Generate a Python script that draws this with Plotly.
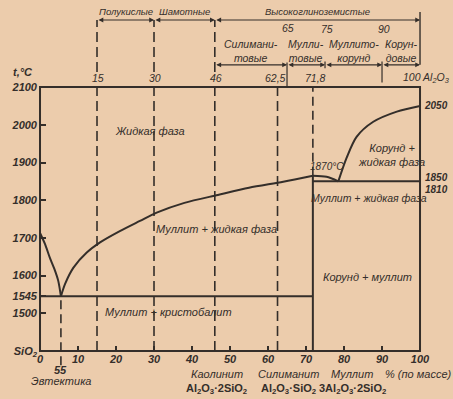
import plotly.graph_objects as go

# ---- data (x = % Al2O3 by mass, t = °C) ----
liq_sio2_x = [0, 1.3, 2.6, 3.8, 4.8, 5.5]
liq_sio2_t = [1713, 1684, 1647, 1617, 1586, 1545]
liq_mullite_x = [5.5, 6.6, 8.8, 12.3, 15.8, 21.0, 26.3, 30.7, 38.0, 46.8, 55.0, 64.0, 71.8]
liq_mullite_t = [1545, 1578, 1621, 1661, 1688, 1718, 1745, 1767, 1793, 1814, 1833, 1849, 1865]
peritectic_x = [71.8, 75.4, 78.5]
peritectic_t = [1865, 1862, 1850]
liq_corundum_x = [78.5, 80.7, 83.3, 87.7, 93.9, 100]
liq_corundum_t = [1850, 1913, 1968, 2008, 2035, 2050]

eutectic_x = 5.5
eutectic_t = 1545
mullite_x = 71.8
solidus_right_t = 1850
t_min, t_max = 1400, 2100
x_min, x_max = 0, 100

x_ticks = [0, 10, 20, 30, 40, 50, 60, 70, 80, 90, 100]
y_ticks = [1400, 1500, 1545, 1600, 1700, 1800, 1900, 2000, 2100]
y_tick_text = ["SiO<sub>2</sub>", "1500", "1545", "1600", "1700", "1800", "1900", "2000", "2100"]

guide_x = [15, 30, 46, 62.5]
guide_top = [2278, 2278, 2278, 2100]
top_labels = ["15", "30", "46", "62,5", "71,8"]
top_label_x = [15.3, 30.3, 46.3, 62.0, 72.5]

group_row1 = [(15, 30, "Полукислые"), (30, 46, "Шамотные"), (46, 100, "Высокоглиноземистые")]
group_row2 = [(46, 65, "Силимани-<br>товые"), (65, 75, "Мулли-<br>товые"),
              (75, 90, "Муллито-<br>корунд"), (90, 100, "Корун-<br>довые")]
row2_bounds = [65, 75, 90]

INK = "rgb(52,46,42)"
BG = "rgb(236,204,172)"
FONT = "Liberation Sans"

fig = go.Figure()

def curve(xs, ts):
    fig.add_trace(go.Scatter(x=xs, y=ts, mode="lines", line=dict(color=INK, width=2, shape="spline", smoothing=0.8),
                             hoverinfo="skip", showlegend=False))

curve(liq_sio2_x, liq_sio2_t)
curve(liq_mullite_x, liq_mullite_t)
curve(peritectic_x, peritectic_t)
curve(liq_corundum_x, liq_corundum_t)

def seg(x0, y0, x1, y1, width=2, dash=None):
    fig.add_shape(type="line", x0=x0, y0=y0, x1=x1, y1=y1, xref="x", yref="y",
                  line=dict(color=INK, width=width, dash=dash))

# frame
fig.add_shape(type="rect", x0=x_min, y0=t_min, x1=x_max, y1=t_max, xref="x", yref="y",
              line=dict(color=INK, width=2))
# eutectic & solidus lines
seg(x_min, eutectic_t, mullite_x, eutectic_t)
seg(mullite_x, solidus_right_t, x_max, solidus_right_t)
seg(mullite_x, t_min, mullite_x, liq_mullite_t[-1])
seg(mullite_x, liq_mullite_t[-1], mullite_x, t_max, 1.6, "9px,5px")
seg(eutectic_x, 1362, eutectic_x, eutectic_t, 1.6, "9px,5px")
for gx, gt in zip(guide_x, guide_top):
    seg(gx, t_min, gx, t_max, 1.6, "10px,5px")
    if gt > t_max:
        seg(gx, 2140, gx, gt, 1.6, "10px,5px")

# right edge extension & dividers of upper classification
seg(100, 2159, 100, 2299, 1.4)
seg(row2_bounds[0], 2100, row2_bounds[0], 2165, 1.2)
seg(row2_bounds[1], 2150, row2_bounds[1], 2168, 1.2)
seg(row2_bounds[2], 2112, row2_bounds[2], 2168, 1.2)

def bracket(a, b, y):
    fig.add_annotation(x=b, y=y, ax=a, ay=y, xref="x", yref="y", axref="x", ayref="y",
                       text="", showarrow=True, arrowhead=2, arrowside="end+start",
                       arrowsize=0.8, arrowwidth=1.2, arrowcolor=INK)

def label(x, y, text, size=11, xanchor="center", style="italic", weight="normal"):
    fig.add_annotation(x=x, y=y, xref="x", yref="y", text=text, showarrow=False,
                       xanchor=xanchor, yanchor="middle",
                       font=dict(family=FONT, size=size, color=INK, style=style, weight=weight))

for a, b, name in group_row1:
    bracket(a, b, 2278)
    label((a + b) / 2, 2300, name, size=9.5)
for a, b, name in group_row2:
    bracket(a, b, 2159)
    label((a + b) / 2, 2195, name, size=10.5)
label(65.3, 2257, "65", 10.5)
label(75.5, 2255, "75", 10.5)
label(90.5, 2255, "90", 10.5)

for lx, lt in zip(top_label_x, top_labels):
    label(lx, 2124, lt, 10.5)
label(95.0, 2124, "100 Al<sub>2</sub>O<sub>3</sub>", 10.5, xanchor="left")
label(-4.6, 2140, "t,°C", 11, weight="bold")

# phase-region labels
label(28.9, 1983, "Жидкая фаза")
label(46.5, 1723, "Муллит + жидкая фаза")
label(33.8, 1503, "Муллит + кристобалит")
label(92.6, 1921, "Корунд +<br>жидкая фаза")
label(86.6, 1805, "Муллит + жидкая фаза", 10.5)
label(86.3, 1597, "Корунд + муллит")
label(75.5, 1889, "1870°C", 10)
label(104.2, 2051, "2050", 10, weight="bold")
label(104.3, 1860, "1850", 10, weight="bold")
label(104.3, 1828, "1810", 10, weight="bold")

# bottom labels
label(eutectic_x, 1350, "55", 11, weight="bold")
label(eutectic_x, 1320, "Эвтектика", 11)
label(46.5, 1338, "Каолинит", 11)
label(46.5, 1299, "Al<sub>2</sub>O<sub>3</sub>·2SiO<sub>2</sub>", 11, style="normal", weight="bold")
label(65.5, 1338, "Силиманит", 11)
label(65.5, 1299, "Al<sub>2</sub>O<sub>3</sub>·SiO<sub>2</sub>", 11, style="normal", weight="bold")
label(82.2, 1338, "Муллит", 11)
label(82.2, 1299, "3Al<sub>2</sub>O<sub>3</sub>·2SiO<sub>2</sub>", 11, style="normal", weight="bold")
label(99.6, 1339, "% (по массе)", 11)

tickfont = dict(family=FONT, size=11, color=INK, style="italic", weight="bold")
fig.update_layout(
    template="none",
    width=453, height=399,
    margin=dict(l=0, r=0, t=0, b=0),
    paper_bgcolor=BG, plot_bgcolor=BG,
    showlegend=False,
    xaxis=dict(range=[-10.53, 108.68], domain=[0, 1], anchor="free", position=48 / 399,
               showgrid=False, zeroline=False, showline=False, automargin=False,
               tickmode="array", tickvals=x_ticks, ticks="inside", ticklen=5,
               tickcolor=INK, tickwidth=1.5, tickfont=tickfont, fixedrange=True),
    yaxis=dict(range=[1272.7, 2331.0], domain=[0, 1], anchor="free", position=40 / 453,
               showgrid=False, zeroline=False, showline=False, automargin=False,
               tickmode="array", tickvals=y_ticks, ticktext=y_tick_text, ticks="inside",
               ticklen=5, tickcolor=INK, tickwidth=1.5, tickfont=tickfont, fixedrange=True,
               ticklabelstandoff=3),
)

fig.write_html("out.html", config={"displayModeBar": False},
               post_script="document.body.style.margin='0';document.body.style.overflow='hidden';")
